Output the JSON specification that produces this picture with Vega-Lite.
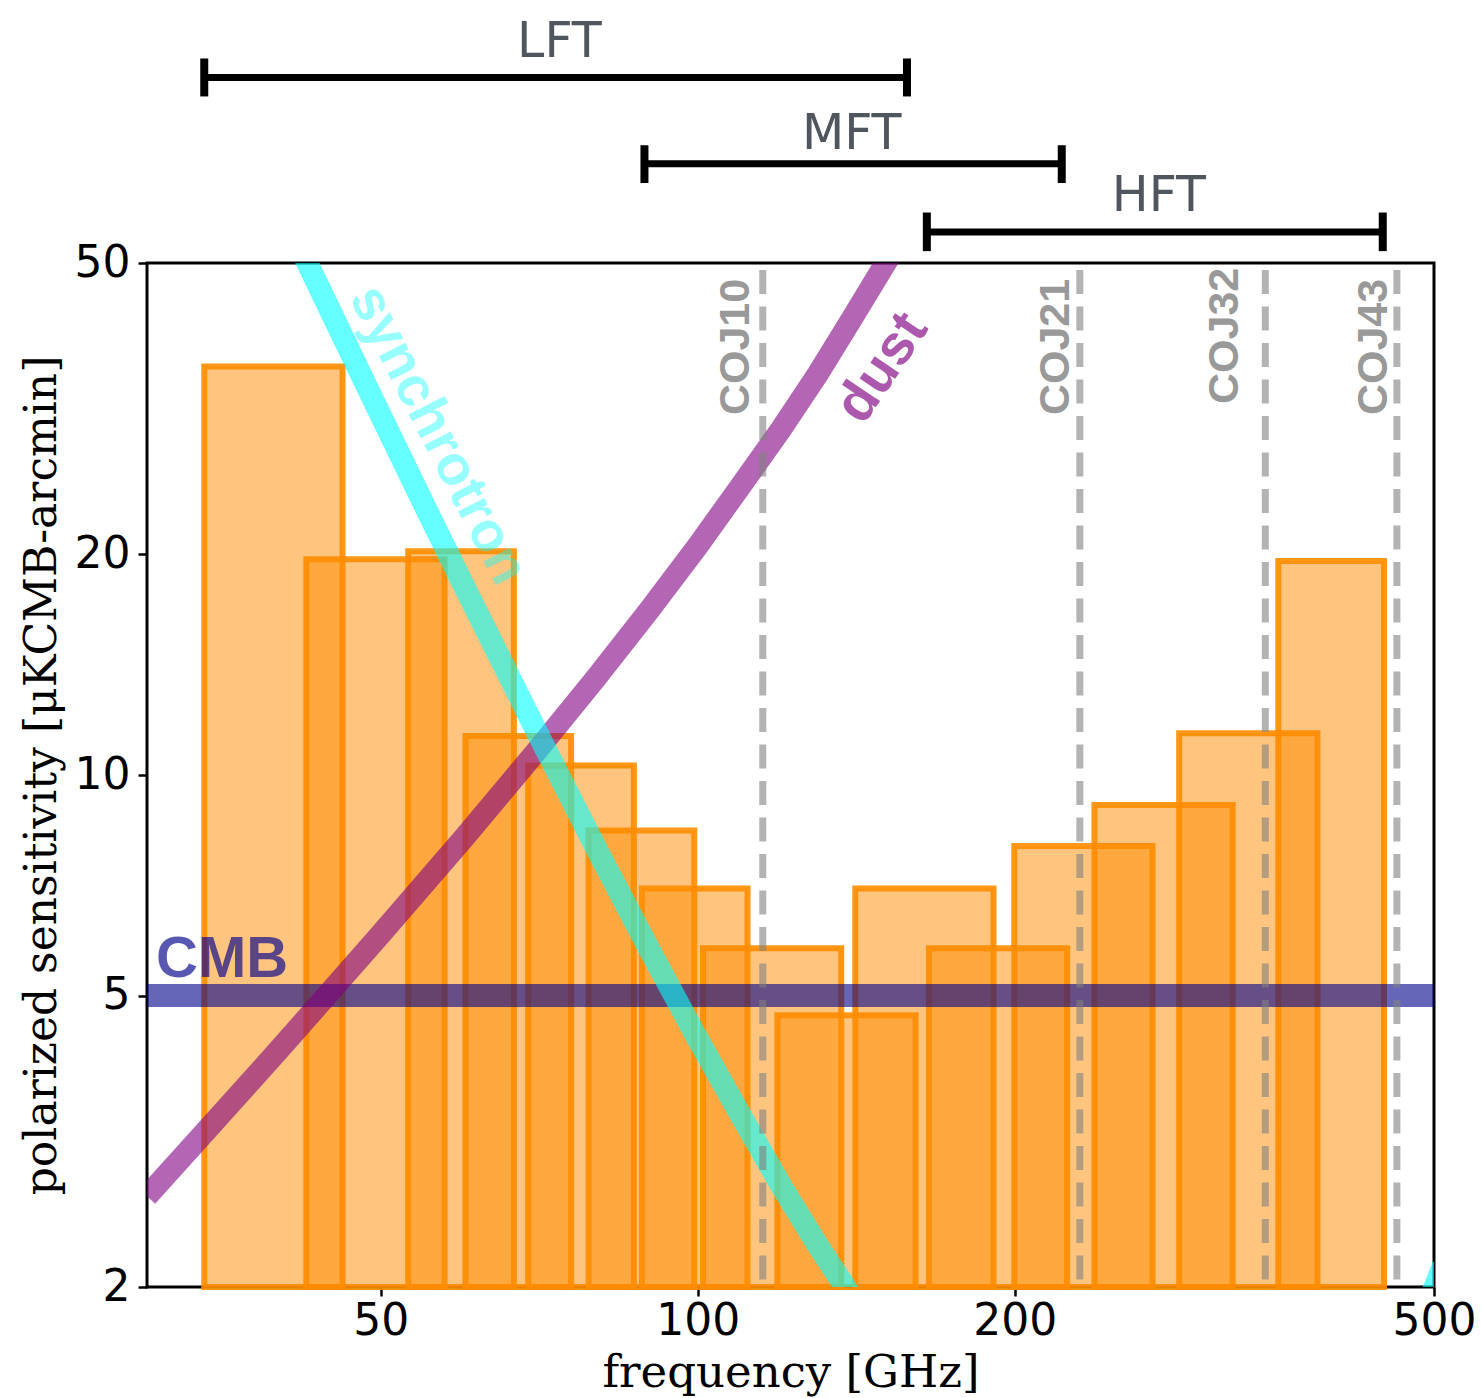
{
  "$schema": "https://vega.github.io/schema/vega-lite/v6.json",
  "width": 1287,
  "height": 1024,
  "autosize": {"type": "none"},
  "padding": {"left": 147, "top": 263, "right": 47, "bottom": 111},
  "background": "white",
  "config": {
    "view": {"stroke": "black", "strokeWidth": 3},
    "axis": {
      "domain": false,
      "grid": false,
      "labelFlush": false,
      "labelOverlap": false,
      "labelFont": "DejaVu Sans",
      "labelFontSize": 44,
      "labelColor": "black",
      "tickColor": "black",
      "tickWidth": 2.5,
      "tickSize": 9,
      "titleFont": "DejaVu Serif",
      "titleFontSize": 44,
      "titleFontWeight": "normal",
      "titleColor": "black"
    },
    "axisX": {"labelPadding": 3, "titlePadding": 7, "titleFontSize": 45},
    "axisY": {"labelPadding": 8, "titlePadding": 10}
  },
  "layer": [
    {
      "data": {"values": [
        {"band": 40, "lo": 34, "hi": 46, "s": 36.1},
        {"band": 50, "lo": 42.5, "hi": 57.5, "s": 19.7},
        {"band": 60, "lo": 53.1, "hi": 66.9, "s": 20.2},
        {"band": 68, "lo": 60.18, "hi": 75.82, "s": 11.3},
        {"band": 78, "lo": 69.03, "hi": 86.97, "s": 10.3},
        {"band": 89, "lo": 78.77, "hi": 99.24, "s": 8.4},
        {"band": 100, "lo": 88.5, "hi": 111.5, "s": 7.0},
        {"band": 119, "lo": 101.15, "hi": 136.85, "s": 5.8},
        {"band": 140, "lo": 119, "hi": 161, "s": 4.7},
        {"band": 166, "lo": 141.1, "hi": 190.9, "s": 7.0},
        {"band": 195, "lo": 165.75, "hi": 224.25, "s": 5.8},
        {"band": 235, "lo": 199.75, "hi": 270.25, "s": 8.0},
        {"band": 280, "lo": 238, "hi": 322, "s": 9.1},
        {"band": 337, "lo": 286.45, "hi": 387.55, "s": 11.4},
        {"band": 402, "lo": 355.77, "hi": 448.23, "s": 19.6}
      ]},
      "mark": {"type": "rect", "fill": "#ff8c00", "fillOpacity": 0.5, "stroke": "#ff8c00", "strokeOpacity": 0.9, "strokeWidth": 6},
      "encoding": {
        "x": {"field": "lo", "type": "quantitative",
              "scale": {"type": "log", "domain": [30, 500], "nice": false},
              "axis": {"values": [50, 100, 200, 500], "format": "d", "title": "frequency [GHz]"}},
        "x2": {"field": "hi"},
        "y": {"field": "s", "type": "quantitative",
              "scale": {"type": "log", "domain": [2, 50], "nice": false},
              "axis": {"values": [2, 5, 10, 20, 50], "format": "d", "title": "polarized sensitivity [μKCMB-arcmin]"}},
        "y2": {"datum": 2}
      }
    },
    {
      "data": {"values": [{"v": 5}]},
      "mark": {"type": "rule", "color": "#00008b", "opacity": 0.6, "strokeWidth": 23},
      "encoding": {"y": {"field": "v", "type": "quantitative"}}
    },
    {
      "data": {"values": [
        {"f": 30, "v": 2.66}, {"f": 35, "v": 3.40}, {"f": 40, "v": 4.21}, {"f": 50, "v": 6.06},
        {"f": 60, "v": 8.21}, {"f": 70, "v": 10.70}, {"f": 80, "v": 13.55}, {"f": 90, "v": 16.81},
        {"f": 100, "v": 20.55}, {"f": 110, "v": 24.88}, {"f": 120, "v": 29.66}, {"f": 130, "v": 35.27},
        {"f": 140, "v": 41.94}, {"f": 150, "v": 49.38}, {"f": 160, "v": 57.5}
      ]},
      "mark": {"type": "line", "color": "#800080", "opacity": 0.6, "strokeWidth": 22, "clip": true},
      "encoding": {
        "x": {"field": "f", "type": "quantitative"},
        "y": {"field": "v", "type": "quantitative"}
      }
    },
    {
      "data": {"values": [
        {"f": 40, "v": 60.4}, {"f": 45, "v": 42.41}, {"f": 50, "v": 30.98}, {"f": 55, "v": 23.36},
        {"f": 60, "v": 18.10}, {"f": 70, "v": 11.61}, {"f": 80, "v": 7.97}, {"f": 90, "v": 5.77},
        {"f": 100, "v": 4.36}, {"f": 110, "v": 3.42}, {"f": 120, "v": 2.75}, {"f": 130, "v": 2.28},
        {"f": 140, "v": 1.94}, {"f": 150, "v": 1.67}, {"f": 200, "v": 1.01}, {"f": 300, "v": 0.79},
        {"f": 400, "v": 1.06}, {"f": 450, "v": 1.41}, {"f": 480, "v": 1.72}, {"f": 500, "v": 1.99},
        {"f": 510, "v": 2.14}
      ]},
      "mark": {"type": "line", "color": "#00ffff", "opacity": 0.6, "strokeWidth": 22, "clip": true},
      "encoding": {
        "x": {"field": "f", "type": "quantitative"},
        "y": {"field": "v", "type": "quantitative"}
      }
    },
    {
      "data": {"values": [
        {"name": "COJ10", "f": 115.27, "lf": 111.9, "ly": 31.0, "top": 50, "bottom": 2},
        {"name": "COJ21", "f": 230.54, "lf": 225, "ly": 31.0, "top": 50, "bottom": 2},
        {"name": "COJ32", "f": 345.8, "lf": 326, "ly": 32.1, "top": 50, "bottom": 2},
        {"name": "COJ43", "f": 461.04, "lf": 451.5, "ly": 31.0, "top": 50, "bottom": 2}
      ]},
      "layer": [
        {
          "mark": {"type": "rule", "color": "#808080", "opacity": 0.6, "strokeWidth": 7, "strokeDash": [24, 12.5], "strokeDashOffset": 29.5},
          "encoding": {
            "x": {"field": "f", "type": "quantitative"},
            "y": {"field": "top", "type": "quantitative"},
            "y2": {"field": "bottom"}
          }
        },
        {
          "mark": {"type": "text", "angle": 270, "align": "left", "baseline": "alphabetic", "font": "Liberation Sans", "fontWeight": "bold", "fontSize": 43, "color": "#808080", "opacity": 0.8},
          "encoding": {
            "x": {"field": "lf", "type": "quantitative"},
            "y": {"field": "ly", "type": "quantitative"},
            "text": {"field": "name"}
          }
        }
      ]
    },
    {
      "data": {"values": [{"label": "synchrotron", "f": 56.7, "v": 29.1}]},
      "mark": {"type": "text", "angle": 63, "align": "center", "baseline": "middle", "font": "Liberation Sans", "fontWeight": "bold", "fontSize": 56, "color": "#00ffff", "opacity": 0.4},
      "encoding": {
        "x": {"field": "f", "type": "quantitative"},
        "y": {"field": "v", "type": "quantitative"},
        "text": {"field": "label"}
      }
    },
    {
      "data": {"values": [{"label": "dust", "f": 149.6, "v": 35.96}]},
      "mark": {"type": "text", "angle": 304, "align": "center", "baseline": "middle", "font": "Liberation Sans", "fontWeight": "bold", "fontSize": 56, "color": "#800080", "opacity": 0.65},
      "encoding": {
        "x": {"field": "f", "type": "quantitative"},
        "y": {"field": "v", "type": "quantitative"},
        "text": {"field": "label"}
      }
    },
    {
      "data": {"values": [{"label": "CMB", "f": 30.6, "v": 5.3}]},
      "mark": {"type": "text", "align": "left", "baseline": "alphabetic", "font": "Liberation Sans", "fontWeight": "bold", "fontSize": 58, "color": "#00008b", "opacity": 0.65},
      "encoding": {
        "x": {"field": "f", "type": "quantitative"},
        "y": {"field": "v", "type": "quantitative"},
        "text": {"field": "label"}
      }
    },
    {
      "data": {"values": [
        {"name": "LFT", "lo": 34, "hi": 158, "y": 89.6, "ylo": 84.4, "yhi": 95.1, "lf": 73.9, "ly": 95.5},
        {"name": "MFT", "lo": 89, "hi": 221.6, "y": 68.3, "ylo": 64.3, "yhi": 72.4, "lf": 140, "ly": 71.5},
        {"name": "HFT", "lo": 165, "hi": 447, "y": 55.1, "ylo": 51.9, "yhi": 58.6, "lf": 274, "ly": 58.9}
      ]},
      "layer": [
        {
          "mark": {"type": "rule", "color": "black", "strokeWidth": 7},
          "encoding": {
            "x": {"field": "lo", "type": "quantitative"},
            "x2": {"field": "hi"},
            "y": {"field": "y", "type": "quantitative"}
          }
        },
        {
          "mark": {"type": "rule", "color": "black", "strokeWidth": 8},
          "encoding": {
            "x": {"field": "lo", "type": "quantitative"},
            "y": {"field": "ylo", "type": "quantitative"},
            "y2": {"field": "yhi"}
          }
        },
        {
          "mark": {"type": "rule", "color": "black", "strokeWidth": 8},
          "encoding": {
            "x": {"field": "hi", "type": "quantitative"},
            "y": {"field": "ylo", "type": "quantitative"},
            "y2": {"field": "yhi"}
          }
        },
        {
          "mark": {"type": "text", "align": "center", "baseline": "alphabetic", "font": "DejaVu Sans", "fontSize": 49, "color": "#50565d"},
          "encoding": {
            "x": {"field": "lf", "type": "quantitative"},
            "y": {"field": "ly", "type": "quantitative"},
            "text": {"field": "name"}
          }
        }
      ]
    }
  ]
}
